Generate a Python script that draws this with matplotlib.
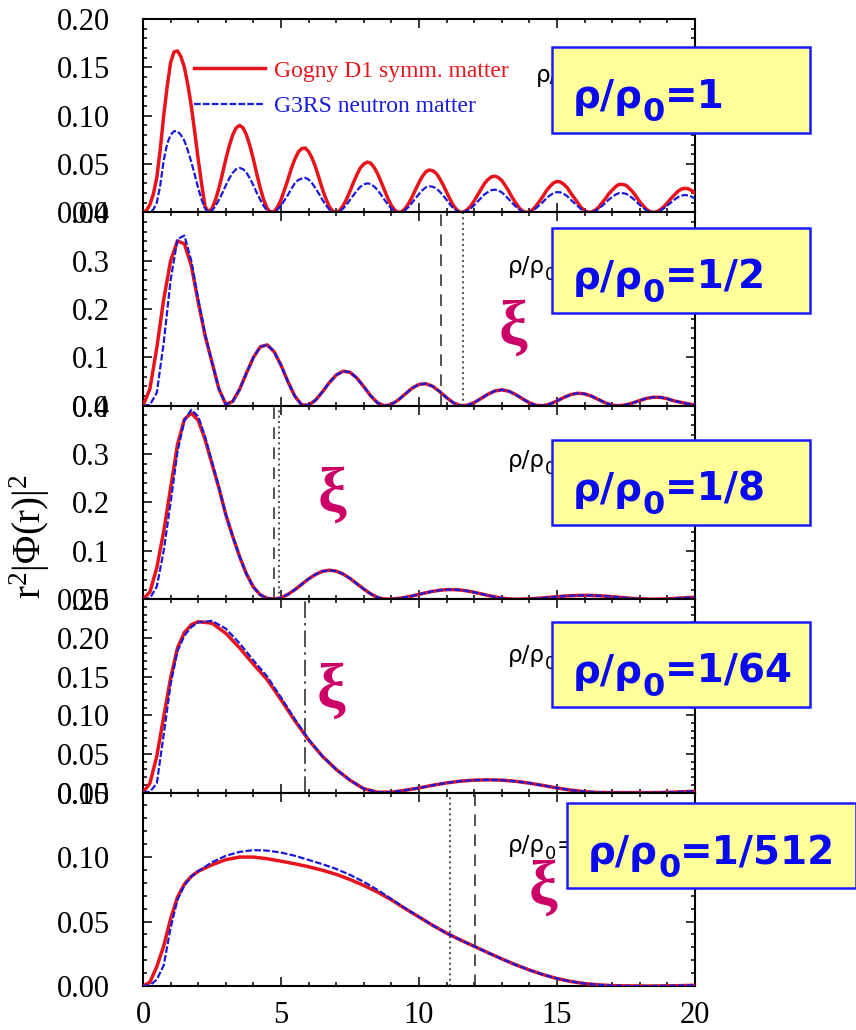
import numpy as np
import matplotlib
matplotlib.use("Agg")
import matplotlib.pyplot as plt
from matplotlib.ticker import MultipleLocator, FormatStrFormatter
from matplotlib.patches import Rectangle

plt.rcParams['font.family'] = ['Liberation Serif', 'DejaVu Serif']

# DATA

# r grids: fine one for rho/rho0=1, medium for 1/2 and 1/8, smooth one for 1/64 and 1/512
r_fine = np.arange(0, 20.001, 0.125)
r_osc = np.arange(0, 20.001, 0.25)
r_smooth = np.concatenate([np.arange(0, 2.0, 0.25), np.arange(2.0, 20.001, 0.5)])

# rho/rho0 = 1  (8 values per unit of r)
p1_gogny = [0.000, 0.002, 0.008, 0.019, 0.036, 0.065, 0.100, 0.130,
            0.155, 0.166, 0.167, 0.161, 0.150, 0.132, 0.110, 0.083,
            0.055, 0.029, 0.006, 0.0002, 0.0042, 0.0128, 0.025, 0.0395,
            0.055, 0.0687, 0.080, 0.0874, 0.090, 0.0874, 0.080, 0.0687,
            0.055, 0.0395, 0.025, 0.0128, 0.004, 0.0002, 0.001, 0.0055,
            0.013, 0.0232, 0.034, 0.0455, 0.055, 0.0624, 0.066, 0.0666,
            0.063, 0.0562, 0.047, 0.0358, 0.024, 0.0143, 0.006, 0.0013,
            0.000, 0.002, 0.007, 0.0137, 0.022, 0.0309, 0.039, 0.046,
            0.050, 0.052, 0.051, 0.0464, 0.040, 0.0317, 0.023, 0.0143,
            0.007, 0.0023, 0.000, 0.0008, 0.004, 0.0093, 0.016, 0.0237,
            0.031, 0.0373, 0.042, 0.0439, 0.043, 0.0404, 0.035, 0.0284,
            0.021, 0.0135, 0.007, 0.0025, 0.000, 0.0004, 0.003, 0.0066,
            0.012, 0.0181, 0.024, 0.0299, 0.034, 0.0368, 0.0375, 0.036,
            0.033, 0.0278, 0.022, 0.0156, 0.010, 0.0048, 0.0015, 0.000,
            0.0006, 0.003, 0.007, 0.0119, 0.017, 0.0228, 0.027, 0.0305,
            0.032, 0.0315, 0.029, 0.0254, 0.020, 0.015, 0.010, 0.005,
            0.002, 0.0001, 0.0003, 0.0022, 0.005, 0.0096, 0.014, 0.0192,
            0.023, 0.0267, 0.029, 0.0289, 0.028, 0.0248, 0.021, 0.0161,
            0.011, 0.0068, 0.003, 0.0008, 0.000, 0.0007, 0.003, 0.006,
            0.010, 0.0142, 0.018, 0.0216, 0.024, 0.025, 0.0245, 0.0227,
            0.020]
p1_g3rs = [0.000, 0.000, 0.000, 0.003, 0.010, 0.028, 0.054, 0.071,
           0.080, 0.084, 0.084, 0.080, 0.074, 0.064, 0.052, 0.039,
           0.025, 0.013, 0.004, 0.0001, 0.002, 0.0065, 0.013, 0.020,
           0.028, 0.0351, 0.041, 0.0447, 0.046, 0.0447, 0.041, 0.0351,
           0.028, 0.020, 0.013, 0.0065, 0.002, 0.0001, 0.0005, 0.003,
           0.007, 0.0125, 0.018, 0.0244, 0.030, 0.0335, 0.035, 0.0358,
           0.034, 0.0302, 0.025, 0.0192, 0.013, 0.0077, 0.003, 0.0007,
           0.000, 0.0012, 0.004, 0.0079, 0.013, 0.0178, 0.0225, 0.0265,
           0.029, 0.030, 0.0295, 0.0268, 0.023, 0.0183, 0.013, 0.0083,
           0.004, 0.0013, 0.000, 0.0005, 0.0025, 0.0057, 0.010, 0.0146,
           0.019, 0.0229, 0.026, 0.027, 0.0265, 0.0248, 0.0215, 0.0174,
           0.013, 0.0083, 0.004, 0.0015, 0.000, 0.0003, 0.002, 0.0041,
           0.0075, 0.0113, 0.015, 0.0187, 0.021, 0.0231, 0.0235, 0.0226,
           0.0207, 0.0174, 0.0138, 0.0098, 0.0063, 0.003, 0.001, 0.000,
           0.0004, 0.002, 0.0046, 0.0078, 0.011, 0.015, 0.0177, 0.020,
           0.021, 0.0207, 0.019, 0.0167, 0.013, 0.0098, 0.0066, 0.0033,
           0.0012, 0.0001, 0.0002, 0.0015, 0.0035, 0.0066, 0.0097, 0.0132,
           0.0159, 0.0184, 0.020, 0.0199, 0.0193, 0.0171, 0.0145, 0.0111,
           0.0076, 0.0047, 0.002, 0.0006, 0.000, 0.0005, 0.002, 0.0043,
           0.0072, 0.0102, 0.013, 0.0156, 0.0173, 0.018, 0.0176, 0.0163,
           0.0144]

# rho/rho0 = 1/2  (4 values per unit of r)
p2_gogny = [0.000, 0.035, 0.120, 0.220,
            0.300, 0.341, 0.335, 0.290,
            0.215, 0.145, 0.090, 0.035,
            0.003, 0.009, 0.034, 0.068,
            0.100, 0.122, 0.126, 0.112,
            0.084, 0.050, 0.020, 0.002,
            0.0014, 0.0115, 0.0287, 0.048,
            0.0636, 0.0716, 0.0693, 0.0574,
            0.0395, 0.0205, 0.006, 0.000,
            0.003, 0.012, 0.0244, 0.0364,
            0.0443, 0.0457, 0.0402, 0.0294,
            0.0168, 0.006, 0.0004, 0.0012,
            0.0067, 0.0152, 0.0241, 0.0307,
            0.033, 0.0303, 0.0234, 0.0145,
            0.0062, 0.0009, 0.0003, 0.0038,
            0.0101, 0.0173, 0.0232, 0.026,
            0.0247, 0.0199, 0.013, 0.0061,
            0.0013, 0.0001, 0.002, 0.006,
            0.011, 0.0154, 0.0178, 0.0175,
            0.0146, 0.010, 0.007, 0.004,
            0.002]
p2_g3rs_head = [0.000, 0.002, 0.027, 0.130,
                0.260, 0.345, 0.352, 0.300,
                0.220, 0.148, 0.090, 0.035]

# rho/rho0 = 1/8
p3_gogny = [0.000, 0.015, 0.065, 0.140,
            0.230, 0.320, 0.372, 0.385,
            0.370, 0.330, 0.280, 0.230,
            0.175, 0.130, 0.088, 0.052,
            0.025, 0.009, 0.002, 0.0001,
            0.003, 0.0099, 0.0196, 0.0308,
            0.0419, 0.0512, 0.0576, 0.060,
            0.058, 0.052, 0.043, 0.032,
            0.021, 0.011, 0.0037, 0.0002,
            0.0003, 0.0016, 0.0038, 0.0067,
            0.010, 0.0133, 0.0162, 0.0185,
            0.0198, 0.0199, 0.019, 0.017,
            0.0143, 0.0111, 0.0078, 0.0047,
            0.0022, 0.0006, 0.000, 0.0002,
            0.0008, 0.0016, 0.0028, 0.004,
            0.0052, 0.0064, 0.0072, 0.0078,
            0.008, 0.0078, 0.0072, 0.0064,
            0.0052, 0.004, 0.0028, 0.0016,
            0.0008, 0.0002, 0.000, 0.0002,
            0.0008, 0.0016, 0.0026, 0.0033,
            0.004]
p3_g3rs_head = [0.000, 0.002, 0.026, 0.100,
                0.200, 0.305, 0.370, 0.392,
                0.378, 0.336, 0.284, 0.232]

# rho/rho0 = 1/64 (on r_smooth)
p4_gogny = [0.000, 0.012, 0.047, 0.098, 0.148, 0.187, 0.207, 0.217,
            0.221, 0.219, 0.206, 0.187, 0.166, 0.146, 0.120, 0.093, 0.068, 0.047,
            0.030, 0.016, 0.005, 0.0005, 0.0005, 0.003, 0.006, 0.0095, 0.0125, 0.0148,
            0.0161, 0.0165, 0.0161, 0.0146, 0.0122, 0.0092, 0.006, 0.0032, 0.0012, 0.0002,
            0.000, 0.000, 0.000, 0.000, 0.0003, 0.001, 0.0018]
p4_g3rs_head = [0.000, 0.001, 0.012, 0.075, 0.140, 0.183, 0.203, 0.214,
                0.220, 0.222, 0.212, 0.193, 0.171, 0.150, 0.123, 0.095, 0.069]

# rho/rho0 = 1/512 (on r_smooth)
p5_gogny = [0.000, 0.003, 0.015, 0.031, 0.052, 0.069, 0.079, 0.085,
            0.089, 0.094, 0.098, 0.100, 0.100, 0.0987, 0.0968, 0.0948, 0.0925, 0.0898,
            0.0866, 0.0826, 0.078, 0.0728, 0.0668, 0.060, 0.0535, 0.047, 0.041, 0.0357,
            0.0308, 0.0258, 0.021, 0.0165, 0.0124, 0.0088, 0.0058, 0.0035, 0.0019, 0.0009,
            0.0003, 0.0001, 0.000, 0.000, 0.0001, 0.0003, 0.0006]
p5_g3rs_head = [0.000, 0.0005, 0.005, 0.016, 0.045, 0.067, 0.078, 0.085,
                0.089, 0.096, 0.101, 0.104, 0.1054, 0.105, 0.1035, 0.101, 0.0978, 0.0945,
                0.0908, 0.0862, 0.0808, 0.0745, 0.0675, 0.0603, 0.0537]

density_labels = ["1", "1/2", "1/8", "1/64", "1/512"]
# coherence length markers per panel: (r, style)
xi_marks = [[],
            [(10.8, "dashed"), (11.6, "dotted")],
            [(4.76, "dashed"), (4.94, "dotted")],
            [(5.87, "dashdot")],
            [(11.14, "dotted"), (12.03, "dashed")]]

# STYLE / LAYOUT

W, H = 856, 1030
RED = "#e8141c"
BLUE = "#1a1adb"
XI = "#cc0066"
y_max = [0.20, 0.4, 0.4, 0.25, 0.15]
y_major = [0.05, 0.1, 0.1, 0.05, 0.05]
y_minor = [0.01, 0.02, 0.02, 0.01, 0.01]
y_fmt = ["%.2f", "%.1f", "%.1f", "%.2f", "%.2f"]
styles = {"dashed": (0, (7, 5)), "dotted": (0, (1.2, 2)), "dashdot": (0, (10, 3, 1.5, 3))}


def fx(x):
    return x / W


def fy(y):
    return 1 - y / H


def rho_label(fig, renderer, x, y, lab, size, sub_size, drop, color, z, weight="normal"):
    # rho/rho_0=lab built from pieces so the subscript can be large and low
    kw = dict(family="DejaVu Sans", color=color, va="baseline", ha="left", zorder=z, fontweight=weight)
    t = fig.text(fx(x), fy(y), "ρ/ρ", fontsize=size, **kw)
    x1 = t.get_window_extent(renderer).x1
    t = fig.text(x1 / W, fy(y + drop), "0", fontsize=sub_size, **kw)
    x1 = t.get_window_extent(renderer).x1
    fig.text(x1 / W, fy(y), "=" + lab, fontsize=size, **kw)


fig = plt.figure(figsize=(W / 100, H / 100), dpi=100)
axes = fig.subplots(5, 1, sharex=True)
fig.subplots_adjust(left=fx(143), right=fx(695), top=fy(19), bottom=fy(986), hspace=0)
renderer = fig.canvas.get_renderer()

series = [
    (r_fine, p1_gogny, p1_g3rs),
    (r_osc, p2_gogny, p2_g3rs_head + p2_gogny[len(p2_g3rs_head):]),
    (r_osc, p3_gogny, p3_g3rs_head + p3_gogny[len(p3_g3rs_head):]),
    (r_smooth, p4_gogny, p4_g3rs_head + p4_gogny[len(p4_g3rs_head):]),
    (r_smooth, p5_gogny, p5_g3rs_head + p5_gogny[len(p5_g3rs_head):]),
]

for i, ax in enumerate(axes):
    r, red, blue = series[i]
    ax.plot(r, red, color=RED, lw=2.5, zorder=3, label="Gogny D1 symm. matter")
    ax.plot(r, blue, color=BLUE, lw=1.6, dashes=(3, 1), zorder=4, label="G3RS neutron matter")
    for xm, st in xi_marks[i]:
        ax.axvline(xm, color="#333333", lw=1.2, ls=styles[st], zorder=2)
    ax.set_xlim(0, 20)
    ax.set_ylim(0, y_max[i])
    ax.xaxis.set_major_locator(MultipleLocator(5))
    ax.xaxis.set_minor_locator(MultipleLocator(1))
    ax.yaxis.set_major_locator(MultipleLocator(y_major[i]))
    ax.yaxis.set_minor_locator(MultipleLocator(y_minor[i]))
    ax.yaxis.set_major_formatter(FormatStrFormatter(y_fmt[i]))
    ax.tick_params(which="both", direction="in", top=True, right=True, width=1.1, labelsize=22)
    ax.tick_params(which="major", length=6.5)
    ax.tick_params(which="minor", length=3.2)
    ax.tick_params(axis="y", pad=24)
    ax.tick_params(axis="x", pad=11)
    for s in ax.spines.values():
        s.set_linewidth(1.5)

# legend in top panel
leg = axes[0].legend(loc="upper left", bbox_to_anchor=(fx(194), fy(60)), bbox_transform=fig.transFigure,
                     frameon=False, borderpad=0, borderaxespad=0, handlelength=3.0,
                     handletextpad=0.4, labelspacing=0.6, prop={"family": "Liberation Serif", "size": 17})
for txt, col in zip(leg.get_texts(), [RED, BLUE]):
    txt.set_color(col)

# y label
fig.text(fx(30), fy(536), r"$\mathregular{r^2|Φ(r)|^2}$", rotation=90, ha="center", va="center", fontsize=28)

# small black density labels (partly covered by the boxes)
small_pos = [(536, 82), (508, 273), (508, 467), (508, 662), (508, 852)]
for (x, y), lab in zip(small_pos, density_labels):
    rho_label(fig, renderer, x, y, lab, 16.5, 13, 7, "black", 4)

# yellow boxes with the big blue labels
boxes = [(552, 47, 810, 133), (552, 228, 810, 313), (552, 440, 810, 525),
         (552, 622, 810, 707), (567, 803, 856, 888)]
for (x0, y0, x1, y1), lab in zip(boxes, density_labels):
    fig.add_artist(Rectangle((fx(x0), fy(y1)), (x1 - x0) / W, (y1 - y0) / H, transform=fig.transFigure,
                             facecolor="#ffff99", edgecolor="#1a1aff", lw=1.8, zorder=5))
    rho_label(fig, renderer, x0 + 21, y0 + 61, lab, 28, 23, 13, "#0a0af0", 6, weight="bold")

# xi symbols
xi_pos = [(513, 330), (332, 497), (331, 693), (543, 890)]
for x, y in xi_pos:
    fig.text(fx(x), fy(y), "ξ", color=XI, fontsize=46, fontweight="bold", ha="center", va="center",
             family="Liberation Serif", zorder=6)

fig.savefig("out.png", dpi=100)
